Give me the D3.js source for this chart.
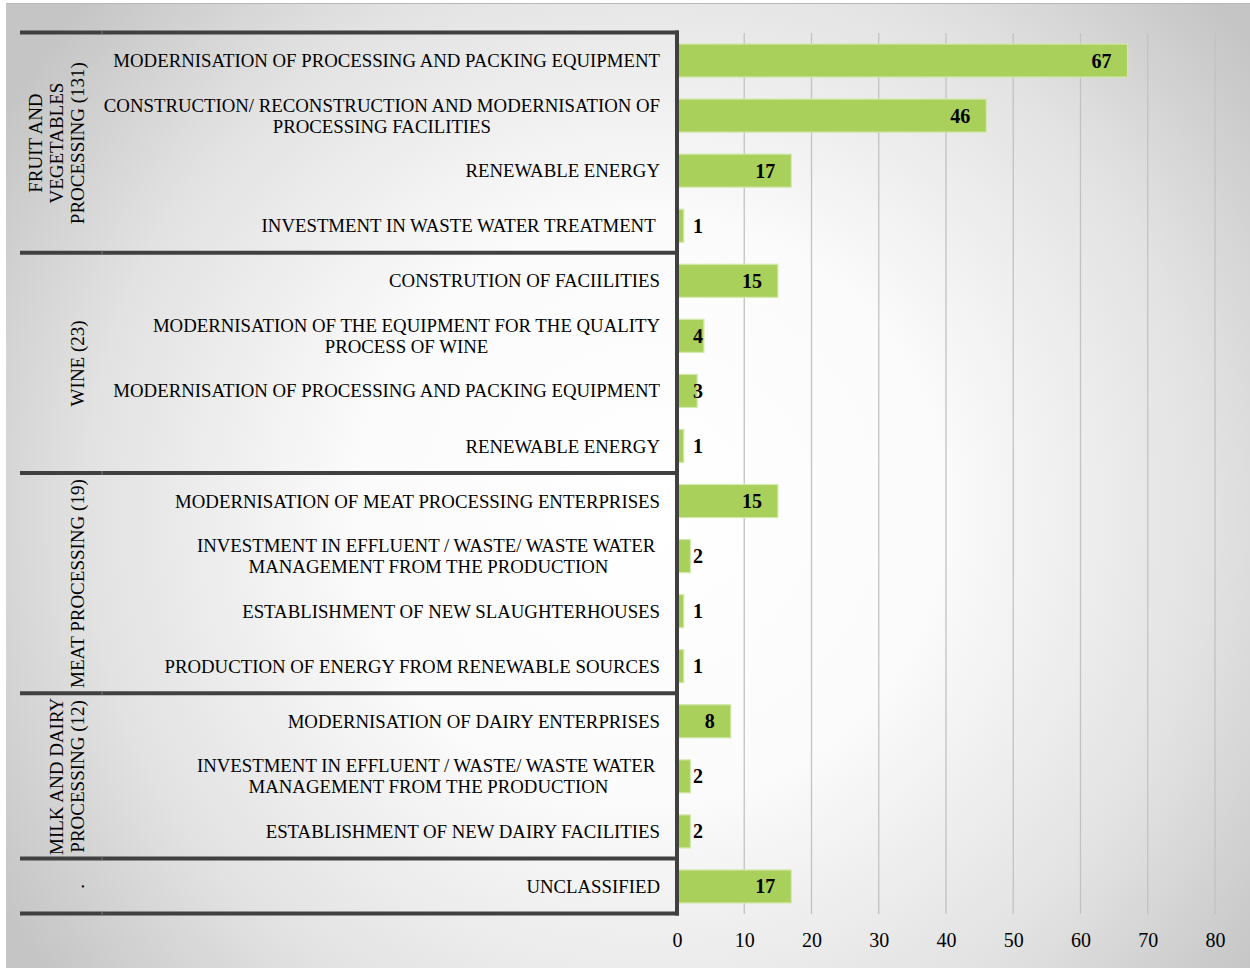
<!DOCTYPE html>
<html>
<head>
<meta charset="utf-8">
<script src="https://cdn.jsdelivr.net/npm/d3@7/dist/d3.min.js"></script>
<style>
  html, body { margin: 0; padding: 0; background: #ffffff; }
  svg { display: block; }
  text { font-family: "Liberation Serif", "Times New Roman", serif; fill: #000; }
  .cat { white-space: pre; }
</style>
</head>
<body>
<script>
// Sector groups (rotated labels in the first column), one line per array entry
const groupNames = [
  ["FRUIT AND", "VEGETABLES", "PROCESSING (131)"],
  ["WINE (23)"],
  ["MEAT PROCESSING (19)"],
  ["MILK AND DAIRY", "PROCESSING (12)"],
  ["."]
];
// Number of investment types belonging to each group, in order
const groupSizes = [4, 4, 4, 3, 1];

// Investment types (lines of each label)
const categories = [
  ["MODERNISATION OF PROCESSING AND PACKING EQUIPMENT"],
  ["CONSTRUCTION/ RECONSTRUCTION AND MODERNISATION OF", "PROCESSING FACILITIES"],
  ["RENEWABLE ENERGY"],
  ["INVESTMENT IN WASTE WATER TREATMENT "],
  ["CONSTRUTION OF FACIILITIES"],
  ["MODERNISATION OF THE EQUIPMENT FOR THE QUALITY", "PROCESS OF WINE"],
  ["MODERNISATION OF PROCESSING AND PACKING EQUIPMENT"],
  ["RENEWABLE ENERGY"],
  ["MODERNISATION OF MEAT PROCESSING ENTERPRISES"],
  ["INVESTMENT IN EFFLUENT / WASTE/ WASTE WATER ", "MANAGEMENT FROM THE PRODUCTION"],
  ["ESTABLISHMENT OF NEW SLAUGHTERHOUSES"],
  ["PRODUCTION OF ENERGY FROM RENEWABLE SOURCES"],
  ["MODERNISATION OF DAIRY ENTERPRISES"],
  ["INVESTMENT IN EFFLUENT / WASTE/ WASTE WATER ", "MANAGEMENT FROM THE PRODUCTION"],
  ["ESTABLISHMENT OF NEW DAIRY FACILITIES"],
  ["UNCLASSIFIED"]
];

// Number of supported projects per investment type
const values = [67, 46, 17, 1, 15, 4, 3, 1, 15, 2, 1, 1, 8, 2, 2, 17];

// Axis ticks
const tickValues = [0, 10, 20, 30, 40, 50, 60, 70, 80];

const W = 1250, H = 968;
const svg = d3.select("body").append("svg").attr("width", W).attr("height", H);

// Soft radial background of the chart area
const defs = svg.append("defs");
const grad = defs.append("radialGradient")
  .attr("id", "bg").attr("gradientUnits", "userSpaceOnUse")
  .attr("cx", 650).attr("cy", 510).attr("r", 760);
[[0, "#ffffff"], [0.38, "#fbfbfb"], [0.74, "#e2e2e2"], [1, "#c5c5c5"]].forEach(([o, c]) =>
  grad.append("stop").attr("offset", o).attr("stop-color", c));

svg.append("rect").attr("x", 6).attr("y", 3).attr("width", W - 6).attr("height", H - 3)
  .attr("fill", "url(#bg)");
svg.append("line").attr("x1", 6).attr("x2", W).attr("y1", 3.5).attr("y2", 3.5)
  .attr("stroke", "#b8b8b8").attr("stroke-width", 1);

const plotTop = 33, plotBottom = 914;
const x = d3.scaleLinear().domain([0, 80]).range([677, 1215]);
const y = d3.scaleBand().domain(d3.range(values.length)).range([plotTop, plotBottom])
  .paddingInner(0.4).paddingOuter(0.2);
const rowEdge = i => plotTop + y.step() * i;

// Vertical gridlines
svg.append("g").selectAll("line").data(tickValues.slice(1)).join("line")
  .attr("x1", d => x(d)).attr("x2", d => x(d))
  .attr("y1", plotTop).attr("y2", plotBottom)
  .attr("stroke", "#c2c2c2").attr("stroke-width", 1.3);

// Bars
svg.append("g").selectAll("rect").data(values).join("rect")
  .attr("x", x(0) + 1).attr("y", (d, i) => y(i))
  .attr("width", d => x(d) - x(0) - 1).attr("height", y.bandwidth())
  .attr("fill", "#a8d05a").attr("stroke", "#d3e8ad").attr("stroke-width", 1.2);

// Value labels
svg.append("g").selectAll("text").data(values).join("text")
  .attr("x", d => Math.max(x(d) - 16, x(0) + 26))
  .attr("y", (d, i) => y(i) + y.bandwidth() / 2)
  .attr("dy", "0.35em").attr("text-anchor", "end")
  .attr("font-size", 20).attr("font-weight", "bold")
  .text(d => d);

// Investment type labels (multi-line blocks centred, right edge aligned)
const labelRight = 660, lineH = 21;
const catG = svg.append("g");
categories.forEach((lines, i) => {
  const cy = y(i) + y.bandwidth() / 2;
  const t = catG.append("text").attr("class", "cat").attr("font-size", 18.8)
    .attr("text-anchor", "middle");
  const spans = lines.map((ln, k) => t.append("tspan")
    .attr("y", cy + (k - (lines.length - 1) / 2) * lineH).attr("dy", "0.35em").text(ln));
  const maxW = d3.max(spans, s => s.node().getComputedTextLength());
  spans.forEach(s => s.attr("x", labelRight - maxW / 2));
});

// Group labels, rotated, with the last line nearest the type column
let start = 0;
const groupG = svg.append("g");
const groupEdges = [0];
groupNames.forEach((lines, g) => {
  const end = start + groupSizes[g];
  groupEdges.push(end);
  const cy = (rowEdge(start) + rowEdge(end)) / 2;
  const t = groupG.append("text").attr("font-size", 19).attr("text-anchor", "middle")
    .attr("transform", `translate(77,${cy}) rotate(-90)`);
  lines.forEach((ln, k) => t.append("tspan").attr("x", 0)
    .attr("y", (k - (lines.length - 1)) * lineH).attr("dy", "0.35em").text(ln));
  start = end;
});

// Table frame: thick separators between groups and the vertical rule at zero
const frame = svg.append("g");
frame.selectAll("line.h").data(groupEdges).join("line").attr("class", "h")
  .attr("x1", 20).attr("x2", 679)
  .attr("y1", d => rowEdge(d) - 0.5).attr("y2", d => rowEdge(d) - 0.5)
  .attr("stroke", "#404040").attr("stroke-width", 4);
frame.selectAll("line.n").data(groupEdges).join("line").attr("class", "n")
  .attr("x1", 102).attr("x2", 102)
  .attr("y1", d => rowEdge(d) - 2.5).attr("y2", d => rowEdge(d) + 1.5)
  .attr("stroke", "#7a7a7a").attr("stroke-width", 1);
frame.append("line")
  .attr("x1", x(0)).attr("x2", x(0)).attr("y1", plotTop - 2.5).attr("y2", plotBottom + 1.5)
  .attr("stroke", "#404040").attr("stroke-width", 4);

// X axis
const axis = svg.append("g").attr("transform", `translate(0,${plotBottom})`)
  .call(d3.axisBottom(x).tickValues(tickValues).tickSize(0).tickPadding(19));
axis.select(".domain").remove();
axis.selectAll("text").attr("font-size", 20)
  .attr("font-family", "'Liberation Serif', 'Times New Roman', serif").attr("fill", "#000");
</script>
</body>
</html>
